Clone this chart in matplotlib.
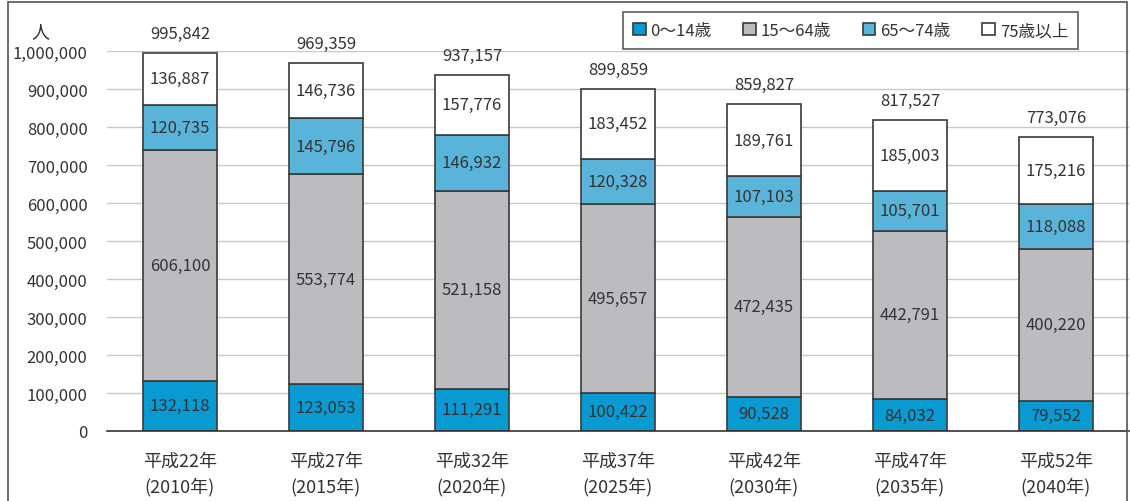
import matplotlib.pyplot as plt
import numpy as np
from matplotlib.patches import Rectangle

plt.rcParams['font.family'] = ['Noto Sans CJK JP', 'DejaVu Sans']

# data
years = ['平成22年\n(2010年)', '平成27年\n(2015年)', '平成32年\n(2020年)', '平成37年\n(2025年)',
         '平成42年\n(2030年)', '平成47年\n(2035年)', '平成52年\n(2040年)']
age_0_14 = [132118, 123053, 111291, 100422, 90528, 84032, 79552]
age_15_64 = [606100, 553774, 521158, 495657, 472435, 442791, 400220]
age_65_74 = [120735, 145796, 146932, 120328, 107103, 105701, 118088]
age_75_up = [136887, 146736, 157776, 183452, 189761, 185003, 175216]
totals = [995842, 969359, 937157, 899859, 859827, 817527, 773076]

series = [
    ('0～14歳', age_0_14, '#0a9ad2'),
    ('15～64歳', age_15_64, '#bcbcbe'),
    ('65～74歳', age_65_74, '#5ab4da'),
    ('75歳以上', age_75_up, '#ffffff'),
]

txt = '#333333'

fig = plt.figure(figsize=(11.30, 5.02), dpi=100)
ax = fig.add_axes([107/1130, 70/502, 1022/1130, 380/502])

x = np.arange(len(years))
width = 0.51
bottom = np.zeros(len(years))
for name, vals, color in series:
    vals = np.array(vals)
    ax.bar(x, vals, width, bottom=bottom, color=color, edgecolor='#3a3a3a',
           linewidth=1.2, label=name, zorder=3)
    for xi, b, v in zip(x, bottom, vals):
        ax.text(xi, b + v / 2, f'{v:,}', ha='center', va='center',
                fontsize=12, color=txt, zorder=4)
    bottom += vals

for xi, t, top in zip(x, totals, bottom):
    ax.annotate(f'{t:,}', (xi, top), xytext=(0, 14), textcoords='offset points',
                ha='center', va='center', fontsize=12, color=txt,
                annotation_clip=False)

ax.set_xlim(-0.5, len(years) - 0.5)
ax.set_ylim(0, 1000000)
ax.set_yticks(np.arange(0, 1000001, 100000))
ax.set_yticklabels([f'{v:,}' for v in range(0, 1000001, 100000)])
ax.set_xticks(x)
ax.set_xticklabels(years, linespacing=1.45)
ax.tick_params(axis='both', length=0, labelcolor=txt)
ax.tick_params(axis='y', pad=14, labelsize=12)
ax.tick_params(axis='x', pad=15, labelsize=13)
ax.grid(axis='y', color='#c8c8c8', linewidth=1, zorder=0)
for s in ['top', 'right', 'left']:
    ax.spines[s].set_visible(False)
ax.spines['bottom'].set_color('#333333')
ax.spines['bottom'].set_linewidth(1.2)
ax.spines['bottom'].set_zorder(5)

fig.text(40/1130, 1 - 32/502, '人', ha='center', va='center', fontsize=13, color=txt)

leg = fig.legend(loc='upper left', bbox_to_anchor=(623/1130, 1 - 13/502), ncol=4,
                 fontsize=12, frameon=True, fancybox=False, handlelength=0.75,
                 handleheight=0.75, handletextpad=0.3, columnspacing=1.9,
                 borderpad=0.6, borderaxespad=0, edgecolor='#333333')
leg.get_frame().set_linewidth(1.2)
for t in leg.get_texts():
    t.set_color(txt)

# outer frame
fig.patches.append(Rectangle((8/1130, -0.05), 1119/1130, 1.05 - 3/502, transform=fig.transFigure,
                             fill=False, edgecolor='#555555', linewidth=1.2))

fig.savefig('out.png', dpi=100)
